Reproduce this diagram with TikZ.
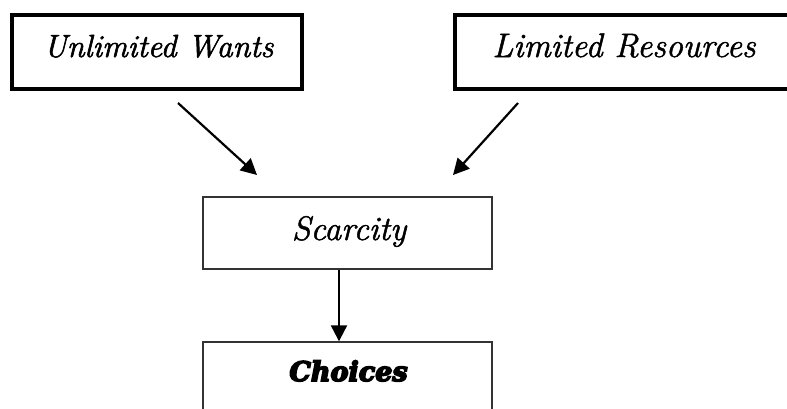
\documentclass[tikz,border=0pt]{standalone}
\usepackage{fontspec}
\usetikzlibrary{arrows.meta}
\newfontfamily\choicesfont{DejaVu Serif}
% fill-and-stroke rendering of glyphs to darken a face by a given stroke width
\newcommand\strokedtext[2]{\special{pdf:literal 2 Tr #1 w 0 0 0 RG}#2\special{pdf:literal 0 Tr}}
\tikzset{
  heavybox/.style={draw=black, line width=4pt, rectangle, inner sep=0pt},
  thinbox/.style={draw=black!80, line width=2pt, rectangle, inner sep=0pt},
  label text/.style={anchor=base, inner sep=0pt, text=black},
  flow/.style={draw=black, line width=2.2pt, -{Triangle[length=16pt, width=16pt]}}
}
\begin{document}
\begin{tikzpicture}[x=1pt, y=-1pt]
  \useasboundingbox (0,0) rectangle (787,408);
  \clip (0,0) rectangle (787,408);

  % top row: the two causes
  \node[heavybox, minimum width=290pt, minimum height=74.6pt] (wants) at (157,52) {};
  \node[heavybox, minimum width=365pt, minimum height=74.6pt] (resources) at (637.3,52) {};
  \node[label text, font=\itshape\fontsize{32}{38}\selectfont] (wantsText) at (158.5,57)
    {\strokedtext{0.6}{Unlimited Wants}};
  \node[label text, font=\itshape\fontsize{34}{40}\selectfont] (resourcesText) at (624,57)
    {\strokedtext{0.5}{Limited Resources}};

  % middle: scarcity
  \node[thinbox, minimum width=288.5pt, minimum height=72.3pt] (scarcity) at (347.25,233.15) {};
  \node[label text, font=\itshape\fontsize{34}{40}\selectfont] (scarcityText) at (349,240)
    {\strokedtext{0.5}{Scarcity}};

  % bottom: choices (runs past the lower edge), set in a thickened heavy italic
  \node[thinbox, minimum width=288.5pt, minimum height=120pt] (choices) at (347.25,402.3) {};
  \node[label text, font=\choicesfont\bfseries\itshape\fontsize{27}{32}\selectfont] (choicesText) at (348.5,381)
    {\strokedtext{1.6}{Choices}};

  % free-standing arrows between the rows
  \coordinate (wantsFrom) at (178,103);
  \coordinate (wantsTo) at (257,175);
  \coordinate (resFrom) at (518,103);
  \coordinate (resTo) at (453,175);
  \draw[flow] (wantsFrom) -- (wantsTo);
  \draw[flow] (resFrom) -- (resTo);

  % scarcity leads to choices
  \draw[flow] (scarcity.south -| 339,0) -- (choices.north -| 339,0);
\end{tikzpicture}
\end{document}
